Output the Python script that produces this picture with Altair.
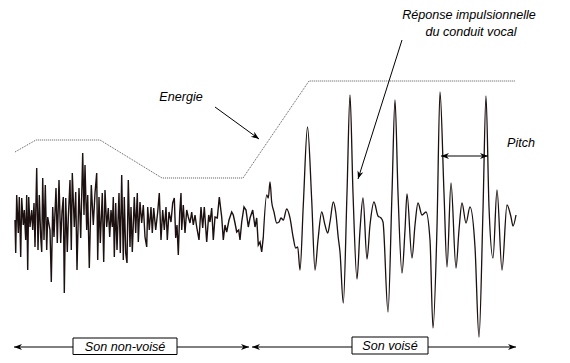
import altair as alt
import pandas as pd
import numpy as np

# ---- waveform (time in px-like units, level; larger = lower) ----
noise_t = [15, 15.7, 16.7, 18.3, 19.3, 20.7, 21.7, 23.3, 24.3, 25.7, 26.7, 27.7, 28.7, 30, 31.7, 32.7, 34, 35,
           36.7, 38, 39.3, 40.7, 41.7, 42.7, 44, 45.3, 46.7, 47.7, 50, 51.3, 52.7, 54, 56, 57.3, 59, 60.7, 62,
           63.3, 64.3, 65.7, 67.3, 68.3, 70, 71.3, 72.3, 74.3, 75.7, 77, 79, 80.7, 82.7, 84, 85, 86.7, 87.7,
           89.3, 91.3, 93.3, 95, 96.7, 97.7, 99, 100.3, 102.3, 103.7, 105, 106.7, 108.3, 109.7, 111, 112.3,
           113.3, 114.3, 115.7, 117, 119, 120.3, 121.7, 123.3, 124.3, 125.7, 127, 128.3, 130, 131, 132.3,
           134.3, 135.7, 137.3, 138.3, 140, 141.7, 143.3, 145, 146.7, 147.7, 149.3, 151, 152.3, 153.7, 155.7,
           157.7, 159.3, 161, 162.7, 164.3, 166, 167.3, 169, 171, 172.7, 174.3, 175.7, 177, 178.3, 179.7, 181,
           181.7, 183.3, 185, 186.7, 188.3, 190, 191.7, 193.3, 195, 196.7, 199, 201, 202.7, 204.3, 206.7,
           208.7, 210, 211.7, 213.3, 215, 217.3, 219.3, 221.7, 223.3, 225, 226.7, 229, 231.7, 233.3, 235,
           236.7, 238.7, 240, 241.7, 244, 246, 248.3, 250, 252.7, 255, 256.7, 258.3, 260, 261.7, 263.3]
noise_y = [220, 253, 195, 233, 197, 257, 198, 225, 210, 240, 195, 270, 197, 227, 210, 230, 203, 247,
           168, 250, 195, 237, 252, 178, 240, 185, 250, 217, 230, 282, 207, 237, 188, 243, 180, 243, 212,
           197, 293, 198, 252, 218, 180, 250, 173, 227, 192, 270, 188, 238, 153, 215, 165, 230, 195,
           268, 185, 225, 193, 173, 260, 197, 243, 193, 262, 190, 227, 208, 237, 210, 227,
           197, 257, 203, 250, 193, 253, 175, 260, 197, 253, 263, 180, 247, 207, 252,
           197, 233, 193, 242, 202, 223, 205, 237, 247, 207, 230, 207, 233, 208, 230,
           212, 193, 240, 210, 230, 207, 240, 212, 222, 203, 198, 238, 225, 255, 213, 193,
           230, 205, 233, 210, 217, 223, 212, 225, 215, 227, 240, 207, 228, 207, 242,
           215, 222, 208, 240, 217, 218, 197, 217, 240, 225, 232, 220, 212, 215, 223,
           232, 230, 240, 222, 207, 210, 227, 218, 210, 227, 218, 245, 242, 252, 237]

voiced_t = [263.3, 266.7, 268.3, 270, 271.7, 274, 276.7, 279, 281, 283.3, 286.7, 290, 293.3, 295.7, 297.7,
            300, 303.3, 307.5, 311.7, 315, 318, 321.7, 325, 327.7, 330, 333.3, 335.7, 338.3, 340, 343.3,
            347, 350, 353, 357, 360, 363, 367, 370, 374, 378, 381, 383, 388, 392, 395, 398, 402, 405, 407,
            412, 415, 418, 422, 426, 430, 433, 437, 440, 444, 447, 451, 456, 459, 462, 466, 470, 475, 479,
            483, 486, 489, 493, 497, 502, 507, 511, 513, 516]
voiced_y = [237, 195, 198, 182, 202, 212, 223, 222, 218, 220, 209, 218, 238, 248, 247,
            270, 205, 127, 200, 270, 240, 212, 225, 233, 222, 202, 212, 238, 252, 303,
            193, 95, 193, 279, 230, 198, 259, 225, 202, 216, 218, 222, 312, 193, 100, 193, 273, 230, 194,
            258, 225, 203, 215, 212, 240, 328, 227, 92, 193, 267, 183, 268, 230, 203, 223, 207, 247, 337,
            210, 96, 207, 258, 190, 270, 205, 217, 226, 215]

energy_t = [15, 36, 100, 162, 243, 309, 515]
energy_y = [152, 140, 140, 178, 178, 81, 81]

# ---- annotations ----
labels = ["Energie", "Réponse impulsionnelle", "du conduit vocal", "Pitch", "Son non-voisé", "Son voisé"]
label_t = [181, 469, 471, 521, 125, 390]
label_y = [97, 15, 32, 143, 346.5, 345.5]

seg_t1 = [215, 402, 441, 14, 252]
seg_y1 = [107, 40, 156, 347, 347]
seg_t2 = [259, 358, 488, 249, 516]
seg_y2 = [139, 179, 156, 347, 347]
seg_double = [False, False, True, True, True]

box_t1 = [73, 352]
box_t2 = [177, 428]
box_y1 = [338, 337]
box_y2 = [354.5, 354]

X = alt.Scale(domain=[8, 562])
Y = alt.Scale(domain=[8, 355], reverse=True)
FONT = "Liberation Sans"
INK = "#1c1010"

noise_df = pd.DataFrame({"t": noise_t, "y": noise_y})
voiced_df = pd.DataFrame({"t": voiced_t, "y": voiced_y})
energy_df = pd.DataFrame({"t": energy_t, "y": energy_y})
label_df = pd.DataFrame({"label": labels, "t": label_t, "y": label_y})
seg_df = pd.DataFrame({"t": seg_t1, "y": seg_y1, "t2": seg_t2, "y2": seg_y2})
box_df = pd.DataFrame({"t": box_t1, "t2": box_t2, "y": box_y1, "y2": box_y2})

heads = []
for a, b, c, d, dbl in zip(seg_t1, seg_y1, seg_t2, seg_y2, seg_double):
    ang = float(np.degrees(np.arctan2(d - b, c - a)))
    heads.append({"t": c, "y": d, "angle": ang % 360})
    if dbl:
        heads.append({"t": a, "y": b, "angle": (ang + 180) % 360})
head_df = pd.DataFrame(heads)

enc_xy = dict(x=alt.X("t:Q", scale=X, axis=None), y=alt.Y("y:Q", scale=Y, axis=None))

noise = alt.Chart(noise_df).mark_line(color=INK, strokeWidth=1.4).encode(order="t:Q", **enc_xy)
voiced = alt.Chart(voiced_df).mark_line(color=INK, strokeWidth=1.3, interpolate="monotone").encode(
    order="t:Q", **enc_xy)
energy = alt.Chart(energy_df).mark_line(color="#555555", strokeWidth=1, strokeDash=[1, 1]).encode(
    order="t:Q", **enc_xy)
segs = alt.Chart(seg_df).mark_rule(color="black", strokeWidth=1).encode(
    x2="t2:Q", y2="y2:Q", **enc_xy)
arrowheads = alt.Chart(head_df).mark_point(
    shape="M 0 0 L -2 -0.75 L -1.4 0 L -2 0.75 Z", filled=True, color="black", opacity=1, size=64
).encode(angle=alt.Angle("angle:Q", scale=None), **enc_xy)
boxes = alt.Chart(box_df).mark_rect(fill="white", stroke="black", strokeWidth=1).encode(
    x2="t2:Q", y2="y2:Q", **enc_xy)
texts = alt.Chart(label_df).mark_text(font=FONT, fontStyle="italic", fontSize=12.6, color="black",
                                      align="center", baseline="middle").encode(text="label:N", **enc_xy)

chart = alt.layer(energy, noise, voiced, segs, arrowheads, boxes, texts).properties(
    width=554, height=347, padding=0, autosize="none"
).configure_view(strokeWidth=0)

chart.save("out.html", embed_options={"renderer": "svg", "actions": False})
